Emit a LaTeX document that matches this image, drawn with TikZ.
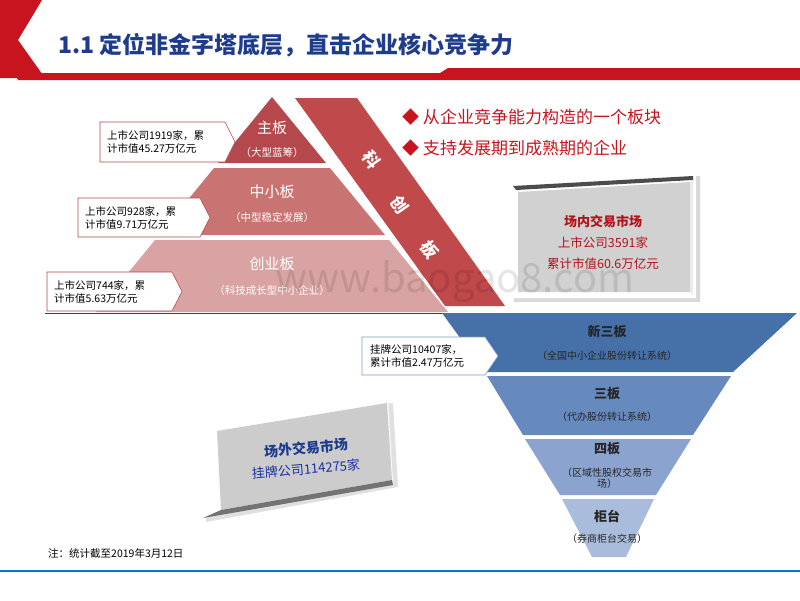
\documentclass[tikz,border=0pt]{standalone}
\usepackage{fontspec}
\setmainfont{Noto Sans CJK SC}
\usetikzlibrary{shapes.geometric}
\definecolor{tblue}{HTML}{1F3C8C}
\definecolor{hred}{HTML}{C8141E}
\definecolor{r1}{HTML}{B5484C}
\definecolor{r2}{HTML}{C97472}
\definecolor{r3}{HTML}{D9A3A3}
\definecolor{kc}{HTML}{C0494B}
\definecolor{b1}{HTML}{4670A8}
\definecolor{b2}{HTML}{6689BE}
\definecolor{b3}{HTML}{8AA3CF}
\definecolor{b4}{HTML}{A9BCDC}
\tikzset{
  lbl/.style={text=white,font=\fontsize{15}{16}\selectfont,inner sep=0},
  sub/.style={text=white,font=\fontsize{10.5}{12}\selectfont,inner sep=0},
  blbl/.style={text=black!85,font=\bfseries\fontsize{13}{15}\selectfont,inner sep=0},
  bsub/.style={text=black!85,font=\fontsize{10}{11.5}\selectfont,inner sep=0,align=center},
  ctxt/.style={font=\fontsize{10.5}{13}\selectfont,align=left,inner sep=0,anchor=west},
  bul/.style={font=\fontsize{17}{18}\selectfont,text=hred,inner sep=0,anchor=west}
}
\begin{document}
\begin{tikzpicture}[x=1pt,y=-1pt]
\useasboundingbox (0,0) rectangle (800,600);
% header
\fill[hred] (0,0) -- (42,0) -- (18,40) -- (45,78) -- (0,78) -- cycle;
\fill[hred] (15,73) -- (440,73) -- (448,68) -- (800,68) -- (800,80) -- (18,80) -- cycle;
\node[anchor=west,text=tblue,font=\bfseries\fontsize{23}{25}\selectfont,inner sep=0] (title) at (58,45) {1.1 定位非金字塔底层，直击企业核心竞争力};
% pyramid
\fill[r1] (272,97) -- (326,163) -- (218,163) -- cycle;
\fill[r2] (214,168) -- (330,168) -- (385,235) -- (159,235) -- cycle;
\fill[r3] (155,240) -- (389,240) -- (448,312) -- (96,312) -- cycle;
\fill[kc] (295,98) -- (357,98) -- (505,306) -- (445,306) -- cycle;
\draw[blue!50!cyan!60!black,line width=0.8pt] (45,313) -- (445,313);
\node[lbl] (zb) at (272,128) {主板};
\node[sub] (zbs) at (272,153) {（大型蓝筹）};
\node[lbl] (zxb) at (272,192) {中小板};
\node[sub] (zxbs) at (272,218) {（中型稳定发展）};
\node[lbl] (cyb) at (272,264) {创业板};
\node[sub] (cybs) at (272,291) {（科技成长型中小企业）};
\foreach \t/\x/\y/\n in {科/372/160/k1,创/400/205/k2,板/430/250/k3}
  \node[lbl,font=\bfseries\fontsize{17}{18}\selectfont,rotate=-55] (\n) at (\x,\y) {\t};
% red callouts
\foreach \a/\b/\c/\d/\n/\t in {100/225/122/162/c1/{上市公司1919家，累\\计市值45.27万亿元},78/200/198/237/c2/{上市公司928家，累\\计市值9.71万亿元},47/172/272/311/c3/{上市公司744家，累\\计市值5.63万亿元}}{
  \draw[fill=white,draw=r1,line width=0.6pt] (\a,\c) -- (\b,\c) -- (\b+10,{(\c+\d)/2}) -- (\b,\d) -- (\a,\d) -- cycle;
  \node[ctxt] (\n) at (\a+7,{(\c+\d)/2}) {\t};
}
% bullets
\node[bul] (bl1) at (402,117) {◆ 从企业竞争能力构造的一个板块};
\node[bul] (bl2) at (402,148) {◆ 支持发展期到成熟期的企业};
% in-market box
\fill[black!15] (514,186) -- (700,176) -- (700,302) -- (514,302) -- cycle;
\fill[white] (510,182) -- (696,172) -- (696,298) -- (510,298) -- cycle;
\fill[black!70] (513,186) -- (693,176) -- (693,180) -- (516,190) -- cycle;
\fill[black!18] (518,192) -- (690,182) -- (690,292) -- (518,292) -- cycle;
\fill[black!8] (690,182) -- (693,180) -- (693,295) -- (690,292) -- cycle;
\node[text=hred!90!black,font=\bfseries\fontsize{13}{15}\selectfont,inner sep=0] (in1) at (603,222) {场内交易市场};
\node[text=hred!90!black,font=\fontsize{12.5}{14}\selectfont,inner sep=0] (in2) at (603,243) {上市公司3591家};
\node[text=hred!90!black,font=\fontsize{12.5}{14}\selectfont,inner sep=0] (in3) at (603,264) {累计市值60.6万亿元};
% watermark
\node[text=black,opacity=0.1,font=\fontsize{40}{40}\selectfont,inner sep=0] (wm) at (455,282) {www.baogao8.com};
% blue inverted pyramid
\fill[b1] (442,313) -- (797,313) -- (733,372) -- (485,372) -- cycle;
\fill[b2] (487,376) -- (731,376) -- (693,435) -- (523,435) -- cycle;
\fill[b3] (525,439) -- (691,439) -- (656,495) -- (560,495) -- cycle;
\fill[b4] (562,499) -- (654,499) -- (626,557) -- (592,557) -- cycle;
\node[blbl] (x1) at (607,332) {新三板};
\node[bsub] (x1s) at (607,356) {（全国中小企业股份转让系统）};
\node[blbl] (x2) at (607,394) {三板};
\node[bsub] (x2s) at (607,417) {（代办股份转让系统）};
\node[blbl] (x3) at (607,449) {四板};
\node[bsub] (x3s) at (607,478) {（区域性股权交易市\\场）};
\node[blbl] (x4) at (607,516) {柜台};
\node[bsub] (x4s) at (607,539) {（券商柜台交易）};
\draw[fill=white,draw=b1!70,line width=0.6pt] (362,337) -- (485,337) -- (498,356) -- (485,375) -- (362,375) -- cycle;
\node[ctxt] (c4) at (370,356) {挂牌公司10407家，\\累计市值2.47万亿元};
% off-market box
\fill[black!12] (201,422) -- (393,403) -- (398,487) -- (206,522) -- cycle;
\fill[white] (196,418) -- (388,399) -- (393,483) -- (201,518) -- cycle;
\fill[black!20] (217,431) -- (387,403) -- (392,480) -- (221,510) -- cycle;
\fill[black!55] (221,510) -- (392,480) -- (393,485) -- (203,518) -- cycle;
\node[text=tblue,font=\bfseries\fontsize{14}{16}\selectfont,inner sep=0,rotate=5] (out1) at (306,448) {场外交易市场};
\node[text=tblue!80!blue,font=\fontsize{13}{15}\selectfont,inner sep=0,rotate=5] (out2) at (306,469) {挂牌公司114275家};
% footer
\node[anchor=west,font=\fontsize{10.5}{12}\selectfont,inner sep=0] (note) at (48,553) {注：统计截至2019年3月12日};
\draw[blue!40!cyan!80!black,line width=1.5pt] (0,571) -- (800,571);
\end{tikzpicture}
\end{document}
